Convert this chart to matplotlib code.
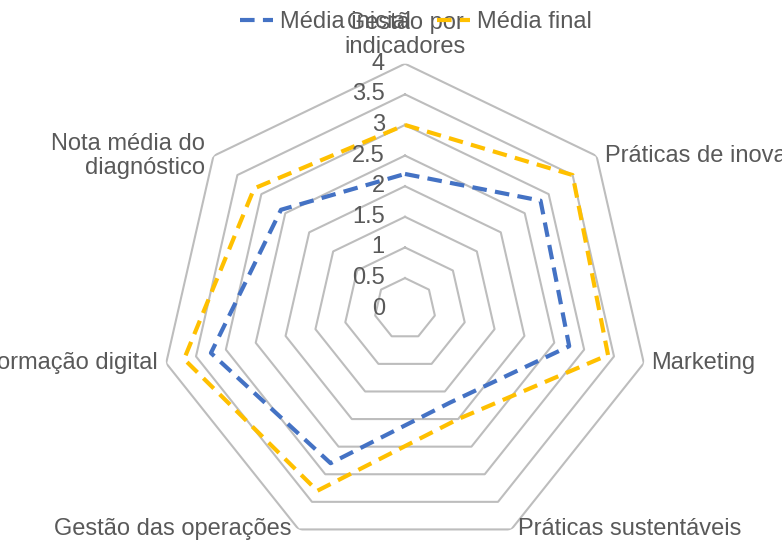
import numpy as np
import matplotlib.pyplot as plt
from matplotlib.lines import Line2D

plt.rcParams['font.family'] = ['Liberation Sans', 'DejaVu Sans']

# dados
categorias = ['Gestão por\nindicadores', 'Práticas de inovação', 'Marketing',
              'Práticas sustentáveis', 'Gestão das operações',
              'Transformação digital', 'Nota média do\ndiagnóstico']
media_inicial = [2.2, 2.83, 2.75, 1.7, 2.8, 3.25, 2.59]
media_final = [3.0, 3.5, 3.4, 2.0, 3.3, 3.7, 3.15]
niveis = [0, 0.5, 1, 1.5, 2, 2.5, 3, 3.5, 4]
rotulos_niveis = ['0', '0.5', '1', '1.5', '2', '2.5', '3', '3.5', '4']

azul = '#4472C4'
amarelo = '#FFC000'
cinza_txt = '#595959'
cinza_grade = '#BDBDBD'
fs = 17
tracejado = (0, (3.5, 2))

n = len(categorias)
angulos = np.linspace(0, 2 * np.pi, n, endpoint=False)
ang_fech = np.append(angulos, angulos[0])

fig = plt.figure(figsize=(7.82, 5.45), dpi=100)
ax = fig.add_axes([160 / 782, -8.7 / 545, 490 / 782, 490 / 545], projection='polar')
ax.set_theta_offset(np.pi / 2)
ax.set_theta_direction(-1)
ax.set_ylim(0, 4)
ax.grid(False)
ax.set_xticks([])
ax.set_yticks([])
ax.spines['polar'].set_visible(False)
ax.patch.set_visible(False)

# grade poligonal
for r in niveis[1:]:
    ax.plot(ang_fech, [r] * (n + 1), color=cinza_grade, lw=1.5, zorder=1)

# séries
ax.plot(ang_fech, media_inicial + media_inicial[:1], color=azul, lw=3,
        linestyle=tracejado, zorder=3)
ax.plot(ang_fech, media_final + media_final[:1], color=amarelo, lw=3,
        linestyle=tracejado, zorder=3)

# rótulos dos níveis
for r, lab in zip(niveis, rotulos_niveis):
    ax.annotate(lab, xy=(0, r), xytext=(-14.5, 0), textcoords='offset points',
                ha='right', va='center', fontsize=fs, color=cinza_txt,
                annotation_clip=False)

# rótulos das categorias
alinh = [('center', 'bottom', 0, 4), ('left', 'center', 6, 0),
         ('left', 'center', 5, 0), ('left', 'center', 5, 0),
         ('right', 'center', -5, 0), ('right', 'center', -6, 0),
         ('right', 'center', -6, 0)]
for a, cat, (ha, va, dx, dy) in zip(angulos, categorias, alinh):
    ax.annotate(cat, xy=(a, 4), xytext=(dx, dy), textcoords='offset points',
                ha=ha, va=va, multialignment=ha if ha != 'center' else 'center',
                fontsize=fs, color=cinza_txt, annotation_clip=False,
                linespacing=1.15)

handles = [Line2D([], [], color=azul, lw=3, linestyle=tracejado),
           Line2D([], [], color=amarelo, lw=3, linestyle=tracejado)]
leg = fig.legend(handles, ['Média inicial', 'Média final'], loc='center',
                 bbox_to_anchor=(416 / 782, 1 - 22 / 545), ncol=2, frameon=False,
                 fontsize=fs, handlelength=1.4, handletextpad=0.3,
                 columnspacing=1.1, borderpad=0)
for t in leg.get_texts():
    t.set_color(cinza_txt)

fig.savefig('out.png', dpi=100)
